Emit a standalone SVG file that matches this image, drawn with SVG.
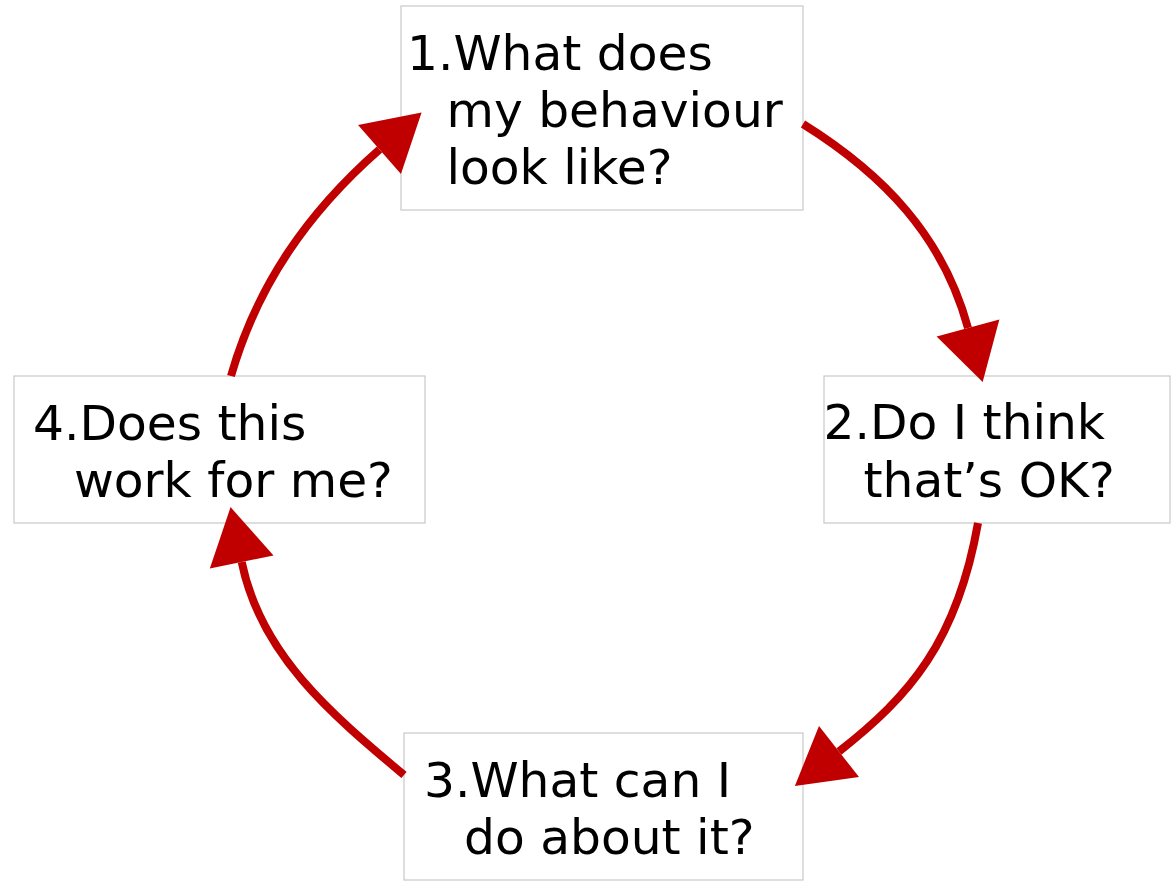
<svg xmlns="http://www.w3.org/2000/svg" width="1171" height="881" viewBox="0 0 1171 881">
  <style>
    .box { fill: #ffffff; stroke: #c8c8c8; stroke-width: 1.2; }
    .lbl { font-family: "DejaVu Sans", Verdana, sans-serif; font-size: 48.7px; fill: #000000; }
    .arc { fill: none; stroke: #c00000; stroke-width: 8; marker-end: url(#head); }
  </style>
  <defs>
    <marker id="head" markerUnits="userSpaceOnUse" viewBox="0 0 60 70" markerWidth="60" markerHeight="70" refX="0" refY="35" orient="auto" overflow="visible">
      <path d="M0,2.5 L56,35 L0,67.5 Z" fill="#c00000"/>
    </marker>
  </defs>
  <rect width="1171" height="881" fill="#ffffff"/>
  <g id="node1">
    <rect class="box" x="401" y="6" width="402" height="204"/>
    <text class="lbl" x="407" y="70">1.What does</text>
    <text class="lbl" x="446.5" y="127">my behaviour</text>
    <text class="lbl" x="446.5" y="184">look like?</text>
  </g>
  <g id="node2">
    <rect class="box" x="824" y="376" width="346" height="147"/>
    <text class="lbl" x="823.5" y="439">2.Do I think</text>
    <text class="lbl" x="863.5" y="497">that’s OK?</text>
  </g>
  <g id="node3">
    <rect class="box" x="404" y="733" width="399" height="147"/>
    <text class="lbl" x="424" y="797">3.What can I</text>
    <text class="lbl" x="464" y="854">do about it?</text>
  </g>
  <g id="node4">
    <rect class="box" x="14" y="376" width="411" height="147"/>
    <text class="lbl" x="33" y="440">4.Does this</text>
    <text class="lbl" x="74" y="497">work for me?</text>
  </g>
  <g id="connectors">
    <path class="arc" d="M231,376 C257.2,284.7 308.1,212.2 379.5,149.5"/>
    <path class="arc" d="M803,124 C883.6,174.3 943.1,236.3 968,328"/>
    <path class="arc" d="M978,523 C957.2,641.2 909.9,696.1 839,751.5"/>
    <path class="arc" d="M404,775 C331.2,713.9 260.6,655.1 241.7,562"/>
  </g>
</svg>
